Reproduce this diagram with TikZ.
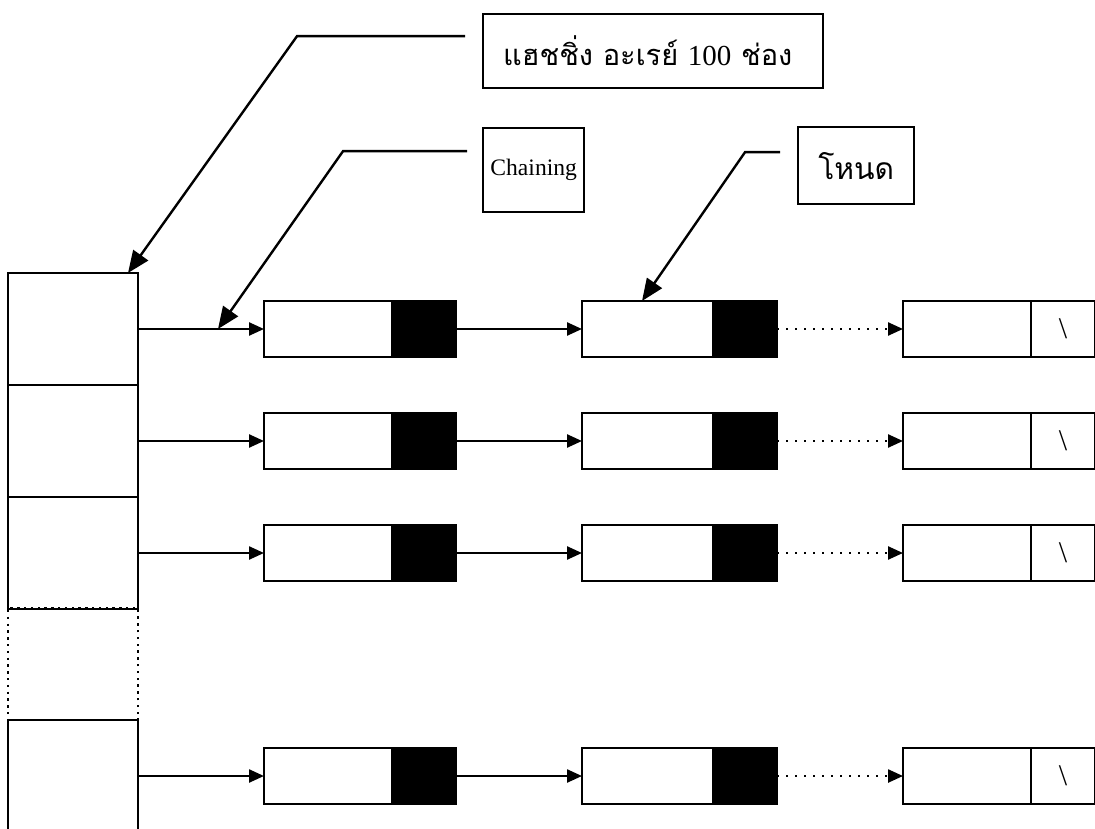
\documentclass[tikz,border=0pt]{standalone}
\usepackage{fontspec}
\setmainfont{Liberation Serif}
\newfontfamily\thaifont[Script=Thai]{Loma}
\usetikzlibrary{positioning, arrows.meta}
\tikzstyle{slotBox} = [shape=rectangle, draw=black, line width=1.2pt, outer sep=0pt,
	inner sep=0pt, minimum width=65pt, minimum height=56pt]
\tikzstyle{dataBox} = [shape=rectangle, draw=black, line width=1.2pt, outer sep=0pt,
	inner sep=0pt, fill=white, minimum width=64pt, minimum height=28pt]
\tikzstyle{linkBox} = [dataBox, fill=black, minimum width=32pt]
\tikzstyle{nullBox} = [dataBox, minimum width=32pt, font=\fontsize{15}{15}\selectfont]
\tikzstyle{labelBox} = [shape=rectangle, draw=black, line width=1.2pt, anchor=north west,
	inner sep=0pt, align=center]
\tikzstyle{normalArrow} = [line width=1.2pt, -{Triangle[length=7.5pt, width=6.5pt]}]
\tikzstyle{dottedArrow} = [normalArrow, dash pattern=on 1.2pt off 3.3pt]
\tikzstyle{calloutArrow} = [line width=1.2pt, -{Triangle[length=11pt, width=9pt]}]

\begin{document}
\begin{tikzpicture}[x=0.5pt, y=-0.5pt]
  \clip (0,0) rectangle (1095,828);

  % hash table slots and the chains hanging off them
  \foreach \r/\y in {1/329, 2/441, 3/553, 4/776} {
    \node (s\r) [slotBox] at (73,\y) {};
    \node (a\r) [dataBox, anchor=west] at (264,\y) {};
    \node (ap\r) [linkBox, right=0pt of a\r] {};
    \node (b\r) [dataBox, anchor=west, minimum width=65.5pt] at (582,\y) {};
    \node (bp\r) [linkBox, right=0pt of b\r] {};
    \node (c\r) [dataBox, anchor=west] at (903,\y) {};
    \node (cp\r) [nullBox, right=0pt of c\r] {\textbackslash};
    \draw [normalArrow] (s\r) -- (a\r);
    \draw [normalArrow] (ap\r) -- (b\r);
    \draw [dottedArrow] (bp\r) -- (c\r);
  }
  \node (gap) [slotBox, dash pattern=on 1.2pt off 2.2pt] at (73,664) {};

  \node (hashLabel) [labelBox, minimum width=170pt, minimum height=37pt, text width=150pt,
    align=left, font=\fontsize{14.5}{16}\selectfont] at (482,13)
    {{\thaifont แฮชชิ่ง อะเรย์} 100 {\thaifont ช่อง}};
  \node (chainLabel) [labelBox, minimum width=50.5pt, minimum height=42pt,
    font=\fontsize{11.8}{14}\selectfont] at (482,127) {Chaining};
  \node (nodeLabel) [labelBox, minimum width=58pt, minimum height=38.5pt,
    font=\fontsize{15}{17}\thaifont] at (797,126) {โหนด};

  \draw [calloutArrow] ([xshift=-8.5pt, yshift=7.5pt]hashLabel.west) -- ++(-168,0)
    -- ([xshift=-5pt]s1.north east);
  \draw [calloutArrow] ([xshift=-7.5pt, yshift=9.5pt]chainLabel.west) -- ++(-124,0)
    -- ([xshift=40pt]s1.east);
  \draw [calloutArrow] ([xshift=-8.5pt, yshift=6.75pt]nodeLabel.west) -- ++(-35,0)
    -- ([xshift=30pt]b1.north west);
\end{tikzpicture}
\end{document}
